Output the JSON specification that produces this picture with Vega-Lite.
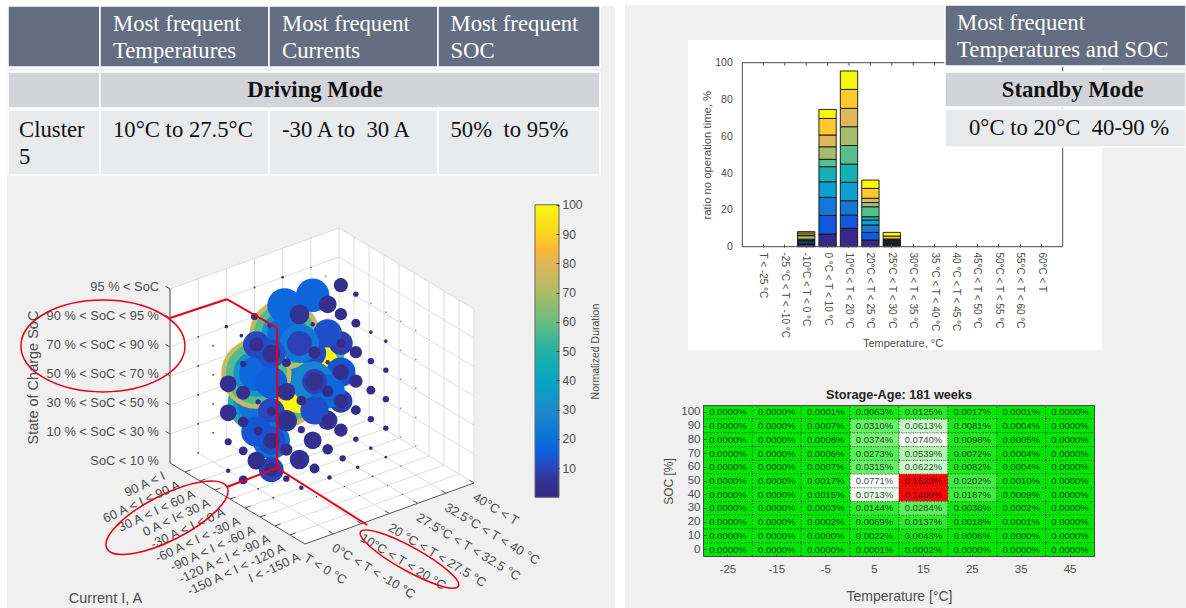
{"$schema":"https://vega.github.io/schema/vega-lite/v6.json","width":1186,"height":608,"padding":0,"autosize":{"type":"none"},"background":"white",
"config":{"view":{"stroke":null},"axis":{"grid":false,"domain":false,"labelFont":"Liberation Sans","titleFont":"Liberation Sans","titleFontWeight":"normal","labelColor":"#4d4d4d","titleColor":"#4d4d4d","tickColor":"#444444"}},
"resolve":{"scale":{"x":"independent","y":"independent","color":"independent","size":"independent"},"axis":{"x":"independent","y":"independent"}},
"datasets":{
"bars":[
{"bin":"-10°C < T < 0 °C","seg":1,"v":1.2},{"bin":"-10°C < T < 0 °C","seg":2,"v":0.6},{"bin":"-10°C < T < 0 °C","seg":3,"v":0.9},{"bin":"-10°C < T < 0 °C","seg":4,"v":0.6},{"bin":"-10°C < T < 0 °C","seg":5,"v":0.4},{"bin":"-10°C < T < 0 °C","seg":6,"v":0.4},{"bin":"-10°C < T < 0 °C","seg":7,"v":1.9},{"bin":"-10°C < T < 0 °C","seg":8,"v":0.3},{"bin":"-10°C < T < 0 °C","seg":9,"v":1.2},{"bin":"-10°C < T < 0 °C","seg":10,"v":0.7},
{"bin":"0 °C < T < 10 °C","seg":1,"v":6.9},{"bin":"0 °C < T < 10 °C","seg":2,"v":10.1},{"bin":"0 °C < T < 10 °C","seg":3,"v":9.8},{"bin":"0 °C < T < 10 °C","seg":4,"v":8.5},{"bin":"0 °C < T < 10 °C","seg":5,"v":8.2},{"bin":"0 °C < T < 10 °C","seg":6,"v":4},{"bin":"0 °C < T < 10 °C","seg":7,"v":6.8},{"bin":"0 °C < T < 10 °C","seg":8,"v":6.4},{"bin":"0 °C < T < 10 °C","seg":9,"v":9},{"bin":"0 °C < T < 10 °C","seg":10,"v":4.9},
{"bin":"10°C < T < 20 °C","seg":1,"v":10},{"bin":"10°C < T < 20 °C","seg":2,"v":7.2},{"bin":"10°C < T < 20 °C","seg":3,"v":7.8},{"bin":"10°C < T < 20 °C","seg":4,"v":10},{"bin":"10°C < T < 20 °C","seg":5,"v":9.9},{"bin":"10°C < T < 20 °C","seg":6,"v":10.1},{"bin":"10°C < T < 20 °C","seg":7,"v":10.2},{"bin":"10°C < T < 20 °C","seg":8,"v":10},{"bin":"10°C < T < 20 °C","seg":9,"v":10.3},{"bin":"10°C < T < 20 °C","seg":10,"v":10},
{"bin":"20°C < T < 25 °C","seg":1,"v":3.6},{"bin":"20°C < T < 25 °C","seg":2,"v":4.2},{"bin":"20°C < T < 25 °C","seg":3,"v":4},{"bin":"20°C < T < 25 °C","seg":4,"v":2.7},{"bin":"20°C < T < 25 °C","seg":5,"v":1.8},{"bin":"20°C < T < 25 °C","seg":6,"v":5.4},{"bin":"20°C < T < 25 °C","seg":7,"v":2.3},{"bin":"20°C < T < 25 °C","seg":8,"v":2.3},{"bin":"20°C < T < 25 °C","seg":9,"v":5.4},{"bin":"20°C < T < 25 °C","seg":10,"v":4.5},
{"bin":"25°C < T < 30 °C","seg":1,"v":1},{"bin":"25°C < T < 30 °C","seg":2,"v":0.6},{"bin":"25°C < T < 30 °C","seg":3,"v":0.5},{"bin":"25°C < T < 30 °C","seg":4,"v":0.5},{"bin":"25°C < T < 30 °C","seg":5,"v":0.4},{"bin":"25°C < T < 30 °C","seg":6,"v":0.4},{"bin":"25°C < T < 30 °C","seg":7,"v":0.4},{"bin":"25°C < T < 30 °C","seg":8,"v":0.4},{"bin":"25°C < T < 30 °C","seg":9,"v":1.6},{"bin":"25°C < T < 30 °C","seg":10,"v":2}],
"bins":[{"bin":"T < -25 °C"},{"bin":"-25 °C < T < -10 °C"},{"bin":"-10°C < T < 0 °C"},{"bin":"0 °C < T < 10 °C"},{"bin":"10°C < T < 20 °C"},{"bin":"20°C < T < 25 °C"},{"bin":"25°C < T < 30 °C"},{"bin":"30°C < T < 35 °C"},{"bin":"35 °C < T < 40 °C"},{"bin":"40 °C < T < 45 °C"},{"bin":"45°C < T < 50 °C"},{"bin":"50°C < T < 55 °C"},{"bin":"55°C < T < 60 °C"},{"bin":"60°C < T"}],
"heat":[
{"t":-25,"s":100,"p":0},{"t":-15,"s":100,"p":0},{"t":-5,"s":100,"p":0.0001},{"t":5,"s":100,"p":0.0063},{"t":15,"s":100,"p":0.0125},{"t":25,"s":100,"p":0.0017},{"t":35,"s":100,"p":0.0001},{"t":45,"s":100,"p":0},
{"t":-25,"s":90,"p":0},{"t":-15,"s":90,"p":0},{"t":-5,"s":90,"p":0.0007},{"t":5,"s":90,"p":0.031},{"t":15,"s":90,"p":0.0613},{"t":25,"s":90,"p":0.0081},{"t":35,"s":90,"p":0.0004},{"t":45,"s":90,"p":0},
{"t":-25,"s":80,"p":0},{"t":-15,"s":80,"p":0},{"t":-5,"s":80,"p":0.0008},{"t":5,"s":80,"p":0.0374},{"t":15,"s":80,"p":0.074},{"t":25,"s":80,"p":0.0098},{"t":35,"s":80,"p":0.0005},{"t":45,"s":80,"p":0},
{"t":-25,"s":70,"p":0},{"t":-15,"s":70,"p":0},{"t":-5,"s":70,"p":0.0006},{"t":5,"s":70,"p":0.0273},{"t":15,"s":70,"p":0.0539},{"t":25,"s":70,"p":0.0072},{"t":35,"s":70,"p":0.0004},{"t":45,"s":70,"p":0},
{"t":-25,"s":60,"p":0},{"t":-15,"s":60,"p":0},{"t":-5,"s":60,"p":0.0007},{"t":5,"s":60,"p":0.0315},{"t":15,"s":60,"p":0.0622},{"t":25,"s":60,"p":0.0082},{"t":35,"s":60,"p":0.0004},{"t":45,"s":60,"p":0},
{"t":-25,"s":50,"p":0},{"t":-15,"s":50,"p":0},{"t":-5,"s":50,"p":0.0017},{"t":5,"s":50,"p":0.0771},{"t":15,"s":50,"p":0.1523},{"t":25,"s":50,"p":0.0202},{"t":35,"s":50,"p":0.001},{"t":45,"s":50,"p":0},
{"t":-25,"s":40,"p":0},{"t":-15,"s":40,"p":0},{"t":-5,"s":40,"p":0.0015},{"t":5,"s":40,"p":0.0713},{"t":15,"s":40,"p":0.1409},{"t":25,"s":40,"p":0.0187},{"t":35,"s":40,"p":0.0009},{"t":45,"s":40,"p":0},
{"t":-25,"s":30,"p":0},{"t":-15,"s":30,"p":0},{"t":-5,"s":30,"p":0.0003},{"t":5,"s":30,"p":0.0144},{"t":15,"s":30,"p":0.0284},{"t":25,"s":30,"p":0.0038},{"t":35,"s":30,"p":0.0002},{"t":45,"s":30,"p":0},
{"t":-25,"s":20,"p":0},{"t":-15,"s":20,"p":0},{"t":-5,"s":20,"p":0.0002},{"t":5,"s":20,"p":0.0069},{"t":15,"s":20,"p":0.0137},{"t":25,"s":20,"p":0.0018},{"t":35,"s":20,"p":0.0001},{"t":45,"s":20,"p":0},
{"t":-25,"s":10,"p":0},{"t":-15,"s":10,"p":0},{"t":-5,"s":10,"p":0},{"t":5,"s":10,"p":0.0022},{"t":15,"s":10,"p":0.0043},{"t":25,"s":10,"p":0.0006},{"t":35,"s":10,"p":0},{"t":45,"s":10,"p":0},
{"t":-25,"s":0,"p":0},{"t":-15,"s":0,"p":0},{"t":-5,"s":0,"p":0},{"t":5,"s":0,"p":0.0001},{"t":15,"s":0,"p":0.0002},{"t":25,"s":0,"p":0},{"t":35,"s":0,"p":0},{"t":45,"s":0,"p":0}],
"cube":[
{"k":"w","w":"left","t":0,"i":0,"s":6,"t2":0,"i2":0,"s2":0},{"k":"w","w":"left","t":6,"i":0,"s":6,"t2":6,"i2":0,"s2":0},
{"k":"w","w":"right","t":6,"i":0,"s":6,"t2":6,"i2":0,"s2":0},{"k":"w","w":"right","t":6,"i":9,"s":6,"t2":6,"i2":9,"s2":0},
{"k":"w","w":"floor","t":0,"i":0,"s":0,"t2":0,"i2":0,"s2":0},{"k":"w","w":"floor","t":4.79,"i":0,"s":0,"t2":0,"i2":9,"s2":0},{"k":"w","w":"floor","t":6,"i":0,"s":0,"t2":1.21,"i2":9,"s2":0},{"k":"w","w":"floor","t":6,"i":9,"s":0,"t2":6,"i2":9,"s2":0},
{"k":"g","t":0,"i":0,"s":0,"t2":0,"i2":0,"s2":6},{"k":"g","t":1,"i":0,"s":0,"t2":1,"i2":0,"s2":6},{"k":"g","t":2,"i":0,"s":0,"t2":2,"i2":0,"s2":6},{"k":"g","t":3,"i":0,"s":0,"t2":3,"i2":0,"s2":6},{"k":"g","t":4,"i":0,"s":0,"t2":4,"i2":0,"s2":6},{"k":"g","t":5,"i":0,"s":0,"t2":5,"i2":0,"s2":6},{"k":"g","t":6,"i":0,"s":0,"t2":6,"i2":0,"s2":6},
{"k":"g","t":0,"i":0,"s":1,"t2":6,"i2":0,"s2":1},{"k":"g","t":0,"i":0,"s":2,"t2":6,"i2":0,"s2":2},{"k":"g","t":0,"i":0,"s":3,"t2":6,"i2":0,"s2":3},{"k":"g","t":0,"i":0,"s":4,"t2":6,"i2":0,"s2":4},{"k":"g","t":0,"i":0,"s":5,"t2":6,"i2":0,"s2":5},{"k":"g","t":0,"i":0,"s":6,"t2":6,"i2":0,"s2":6},
{"k":"g","t":6,"i":1,"s":0,"t2":6,"i2":1,"s2":6},{"k":"g","t":6,"i":2,"s":0,"t2":6,"i2":2,"s2":6},{"k":"g","t":6,"i":3,"s":0,"t2":6,"i2":3,"s2":6},{"k":"g","t":6,"i":4,"s":0,"t2":6,"i2":4,"s2":6},{"k":"g","t":6,"i":5,"s":0,"t2":6,"i2":5,"s2":6},{"k":"g","t":6,"i":6,"s":0,"t2":6,"i2":6,"s2":6},{"k":"g","t":6,"i":7,"s":0,"t2":6,"i2":7,"s2":6},{"k":"g","t":6,"i":8,"s":0,"t2":6,"i2":8,"s2":6},{"k":"g","t":6,"i":9,"s":0,"t2":6,"i2":9,"s2":6},
{"k":"g","t":6,"i":0,"s":0,"t2":6,"i2":9,"s2":0},{"k":"g","t":6,"i":0,"s":1,"t2":6,"i2":9,"s2":1},{"k":"g","t":6,"i":0,"s":2,"t2":6,"i2":9,"s2":2},{"k":"g","t":6,"i":0,"s":3,"t2":6,"i2":9,"s2":3},{"k":"g","t":6,"i":0,"s":4,"t2":6,"i2":9,"s2":4},{"k":"g","t":6,"i":0,"s":5,"t2":6,"i2":9,"s2":5},{"k":"g","t":6,"i":0,"s":6,"t2":6,"i2":9,"s2":6},
{"k":"g","t":1,"i":0,"s":0,"t2":1,"i2":9,"s2":0},{"k":"g","t":2,"i":0,"s":0,"t2":2,"i2":9,"s2":0},{"k":"g","t":3,"i":0,"s":0,"t2":3,"i2":9,"s2":0},{"k":"g","t":4,"i":0,"s":0,"t2":4,"i2":9,"s2":0},{"k":"g","t":5,"i":0,"s":0,"t2":5,"i2":9,"s2":0},
{"k":"g","t":0,"i":1,"s":0,"t2":6,"i2":1,"s2":0},{"k":"g","t":0,"i":2,"s":0,"t2":6,"i2":2,"s2":0},{"k":"g","t":0,"i":3,"s":0,"t2":6,"i2":3,"s2":0},{"k":"g","t":0,"i":4,"s":0,"t2":6,"i2":4,"s2":0},{"k":"g","t":0,"i":5,"s":0,"t2":6,"i2":5,"s2":0},{"k":"g","t":0,"i":6,"s":0,"t2":6,"i2":6,"s2":0},{"k":"g","t":0,"i":7,"s":0,"t2":6,"i2":7,"s2":0},{"k":"g","t":0,"i":8,"s":0,"t2":6,"i2":8,"s2":0},
{"k":"a","t":0,"i":0,"s":0,"t2":0,"i2":0,"s2":6},{"k":"a","t":0,"i":0,"s":0,"t2":0,"i2":9,"s2":0},{"k":"a","t":0,"i":9,"s":0,"t2":6,"i2":9,"s2":0},
{"k":"a","t":0,"i":0,"s":1,"t2":0,"i2":-0.3,"s2":1},{"k":"a","t":0,"i":0,"s":2,"t2":0,"i2":-0.3,"s2":2},{"k":"a","t":0,"i":0,"s":3,"t2":0,"i2":-0.3,"s2":3},{"k":"a","t":0,"i":0,"s":4,"t2":0,"i2":-0.3,"s2":4},{"k":"a","t":0,"i":0,"s":5,"t2":0,"i2":-0.3,"s2":5},{"k":"a","t":0,"i":0,"s":6,"t2":0,"i2":-0.3,"s2":6},
{"k":"a","t":0,"i":1,"s":0,"t2":0.2,"i2":1,"s2":0},{"k":"a","t":0,"i":2,"s":0,"t2":0.2,"i2":2,"s2":0},{"k":"a","t":0,"i":3,"s":0,"t2":0.2,"i2":3,"s2":0},{"k":"a","t":0,"i":4,"s":0,"t2":0.2,"i2":4,"s2":0},{"k":"a","t":0,"i":5,"s":0,"t2":0.2,"i2":5,"s2":0},{"k":"a","t":0,"i":6,"s":0,"t2":0.2,"i2":6,"s2":0},{"k":"a","t":0,"i":7,"s":0,"t2":0.2,"i2":7,"s2":0},{"k":"a","t":0,"i":8,"s":0,"t2":0.2,"i2":8,"s2":0},
{"k":"a","t":1,"i":9,"s":0,"t2":1,"i2":8.7,"s2":0},{"k":"a","t":2,"i":9,"s":0,"t2":2,"i2":8.7,"s2":0},{"k":"a","t":3,"i":9,"s":0,"t2":3,"i2":8.7,"s2":0},{"k":"a","t":4,"i":9,"s":0,"t2":4,"i2":8.7,"s2":0},{"k":"a","t":5,"i":9,"s":0,"t2":5,"i2":8.7,"s2":0},{"k":"a","t":6,"i":9,"s":0,"t2":6,"i2":8.7,"s2":0},
{"k":"b","t":1,"i":0,"s":0,"d":0.05},{"k":"b","t":1,"i":0,"s":1,"d":0.05},{"k":"b","t":1,"i":0,"s":2,"d":0.05},{"k":"b","t":1,"i":0,"s":3,"d":0.05},{"k":"b","t":1,"i":0,"s":4,"d":0.05},{"k":"b","t":1,"i":1,"s":1,"d":0.05},{"k":"b","t":1,"i":1,"s":2,"d":0.05},{"k":"b","t":1,"i":1,"s":3,"d":0.05},{"k":"b","t":1,"i":1,"s":4,"d":0.05},{"k":"b","t":1,"i":2,"s":4,"d":0.05},{"k":"b","t":1,"i":4,"s":0,"d":0.05},{"k":"b","t":1,"i":5,"s":0,"d":0.05},
{"k":"b","t":5,"i":0,"s":5,"d":0.03},{"k":"b","t":5,"i":1,"s":5,"d":0.03},{"k":"b","t":5,"i":4,"s":5,"d":0.03},{"k":"b","t":5,"i":5,"s":5,"d":0.03},{"k":"b","t":5,"i":6,"s":5,"d":0.02},{"k":"b","t":5,"i":6,"s":4,"d":0.02},{"k":"b","t":5,"i":6,"s":3,"d":0.02},{"k":"b","t":5,"i":6,"s":2,"d":0.02},{"k":"b","t":5,"i":6,"s":1,"d":0.02},{"k":"b","t":5,"i":7,"s":5,"d":0.02},{"k":"b","t":5,"i":7,"s":4,"d":0.02},{"k":"b","t":5,"i":7,"s":3,"d":0.02},{"k":"b","t":5,"i":7,"s":2,"d":0.02},{"k":"b","t":5,"i":7,"s":1,"d":0.02},{"k":"b","t":4,"i":7,"s":0,"d":0.02},{"k":"b","t":4,"i":8,"s":0,"d":0.02},{"k":"b","t":5,"i":6,"s":0,"d":0.02},{"k":"b","t":3,"i":6,"s":0,"d":0.03},{"k":"b","t":3,"i":7,"s":0,"d":0.02},{"k":"b","t":2,"i":6,"s":0,"d":0.03},
{"k":"b","t":3,"i":2,"s":2,"d":75},{"k":"b","t":3,"i":2,"s":2,"d":57},{"k":"b","t":3,"i":2,"s":2,"d":32},{"k":"b","t":3,"i":2,"s":2,"d":18},
{"k":"b","t":2,"i":2,"s":2,"d":50},{"k":"b","t":2,"i":2,"s":2,"d":32},{"k":"b","t":2,"i":2,"s":2,"d":22},
{"k":"b","t":3,"i":4,"s":4,"d":55},{"k":"b","t":3,"i":3,"s":3,"d":100},{"k":"b","t":3,"i":3,"s":3,"d":26},
{"k":"b","t":3,"i":2,"s":4,"d":75},{"k":"b","t":3,"i":2,"s":4,"d":57},{"k":"b","t":3,"i":2,"s":4,"d":32},{"k":"b","t":3,"i":2,"s":4,"d":18},
{"k":"b","t":2,"i":2,"s":3,"d":75},{"k":"b","t":2,"i":2,"s":3,"d":57},{"k":"b","t":2,"i":2,"s":3,"d":32},{"k":"b","t":2,"i":2,"s":3,"d":18},
{"k":"b","t":4,"i":2,"s":3,"d":11},{"k":"b","t":5,"i":2,"s":3,"d":8.5},{"k":"b","t":5,"i":2,"s":2,"d":13},{"k":"b","t":5,"i":2,"s":1,"d":8},{"k":"b","t":4,"i":3,"s":4,"d":12.2},{"k":"b","t":4,"i":2,"s":2,"d":27},{"k":"b","t":4,"i":3,"s":2,"d":18},{"k":"b","t":4,"i":3,"s":1,"d":5.8},{"k":"b","t":4,"i":2,"s":1,"d":8},{"k":"b","t":4,"i":2,"s":0,"d":4.8},{"k":"b","t":3,"i":4,"s":3,"d":9.3},{"k":"b","t":3,"i":4,"s":2,"d":12},{"k":"b","t":3,"i":3,"s":4,"d":23},{"k":"b","t":3,"i":3,"s":4,"d":9.3},{"k":"b","t":3,"i":2,"s":5,"d":18},{"k":"b","t":4,"i":2,"s":5,"d":17},{"k":"b","t":2,"i":3,"s":3,"d":15.4},{"k":"b","t":2,"i":3,"s":2,"d":10.7},{"k":"b","t":2,"i":3,"s":1,"d":21},{"k":"b","t":2,"i":3,"s":1,"d":12},{"k":"b","t":2,"i":3,"s":0,"d":9.3},{"k":"b","t":2,"i":2,"s":1,"d":13.8},{"k":"b","t":2,"i":2,"s":0,"d":4.8},{"k":"b","t":2,"i":2,"s":4,"d":10.7},{"k":"b","t":2,"i":3,"s":4,"d":12.2},{"k":"b","t":2,"i":4,"s":2,"d":6.9},{"k":"b","t":3,"i":3,"s":0,"d":5.8},
{"k":"b","t":1,"i":2,"s":0,"d":0.3},{"k":"b","t":1,"i":2,"s":1,"d":0.76},{"k":"b","t":1,"i":2,"s":2,"d":4.3},{"k":"b","t":1,"i":2,"s":3,"d":4.3},{"k":"b","t":1,"i":3,"s":4,"d":0.6},{"k":"b","t":1,"i":3,"s":3,"d":3},{"k":"b","t":1,"i":3,"s":2,"d":1.7},{"k":"b","t":1,"i":3,"s":1,"d":1.2},{"k":"b","t":1,"i":3,"s":0,"d":1.2},{"k":"b","t":1,"i":4,"s":3,"d":0.43},{"k":"b","t":1,"i":4,"s":2,"d":1.2},
{"k":"b","t":2,"i":0,"s":4,"d":0.2},{"k":"b","t":2,"i":1,"s":4,"d":0.2},{"k":"b","t":3,"i":0,"s":4,"d":0.76},{"k":"b","t":3,"i":0,"s":5,"d":0.05},{"k":"b","t":4,"i":0,"s":5,"d":0.1},{"k":"b","t":3,"i":1,"s":4,"d":0.3},
{"k":"b","t":5,"i":2,"s":5,"d":3},{"k":"b","t":5,"i":2,"s":4,"d":2.3},{"k":"b","t":5,"i":2,"s":3,"d":1.2},{"k":"b","t":5,"i":2,"s":2,"d":3.9},{"k":"b","t":5,"i":2,"s":1,"d":3},{"k":"b","t":5,"i":2,"s":0,"d":2.7},
{"k":"b","t":5,"i":3,"s":5,"d":0.43},{"k":"b","t":5,"i":3,"s":4,"d":1.2},{"k":"b","t":5,"i":3,"s":3,"d":2.3},{"k":"b","t":5,"i":3,"s":2,"d":2.7},{"k":"b","t":5,"i":3,"s":1,"d":1.45},{"k":"b","t":5,"i":3,"s":0,"d":0.43},
{"k":"b","t":5,"i":4,"s":4,"d":0.2},{"k":"b","t":5,"i":4,"s":3,"d":0.6},{"k":"b","t":5,"i":4,"s":2,"d":1.2},{"k":"b","t":5,"i":4,"s":1,"d":0.6},{"k":"b","t":5,"i":4,"s":0,"d":0.2},
{"k":"b","t":5,"i":5,"s":4,"d":0.2},{"k":"b","t":5,"i":5,"s":3,"d":0.43},{"k":"b","t":5,"i":5,"s":2,"d":0.6},{"k":"b","t":5,"i":5,"s":1,"d":0.43},{"k":"b","t":5,"i":5,"s":0,"d":0.1},
{"k":"b","t":4,"i":3,"s":0,"d":1.7},{"k":"b","t":4,"i":4,"s":0,"d":0.6},{"k":"b","t":4,"i":5,"s":0,"d":0.2},{"k":"b","t":4,"i":6,"s":0,"d":0.05},{"k":"b","t":3,"i":5,"s":0,"d":0.3},{"k":"b","t":2,"i":5,"s":0,"d":0.3},
{"k":"b","t":3,"i":3,"s":5,"d":5.8},{"k":"b","t":4,"i":3,"s":5,"d":4.8},{"k":"b","t":2,"i":2,"s":4,"d":3},{"k":"b","t":2,"i":3,"s":4,"d":4.8},{"k":"b","t":2,"i":4,"s":4,"d":1.2},{"k":"b","t":3,"i":4,"s":4,"d":2.3},{"k":"b","t":4,"i":2,"s":4,"d":0.3},{"k":"b","t":4,"i":3,"s":3,"d":0.3},{"k":"b","t":3,"i":4,"s":3,"d":5},{"k":"b","t":4,"i":3,"s":2,"d":2},{"k":"b","t":4,"i":3,"s":1,"d":2.3},{"k":"b","t":2,"i":5,"s":3,"d":1.45},{"k":"b","t":2,"i":5,"s":2,"d":0.76},{"k":"b","t":2,"i":4,"s":3,"d":4.8},{"k":"b","t":2,"i":4,"s":2,"d":3.9},{"k":"b","t":2,"i":4,"s":1,"d":2.3},{"k":"b","t":2,"i":4,"s":0,"d":0.6},{"k":"b","t":2,"i":3,"s":2,"d":1.2},{"k":"b","t":2,"i":3,"s":1,"d":3.9},{"k":"b","t":2,"i":3,"s":0,"d":3},{"k":"b","t":2,"i":2,"s":0,"d":3},{"k":"b","t":3,"i":3,"s":0,"d":1.45},{"k":"b","t":3,"i":4,"s":0,"d":1.45},
{"k":"soc","t":0,"i":0,"s":0,"label":"SoC < 10 %"},{"k":"soc","t":0,"i":0,"s":1,"label":"10 % < SoC < 30 %"},{"k":"soc","t":0,"i":0,"s":2,"label":"30 % < SoC < 50 %"},{"k":"soc","t":0,"i":0,"s":3,"label":"50 % < SoC < 70 %"},{"k":"soc","t":0,"i":0,"s":4,"label":"70 % < SoC < 90 %"},{"k":"soc","t":0,"i":0,"s":5,"label":"90 % < SoC < 95 %"},{"k":"soc","t":0,"i":0,"s":6,"label":"95 % < SoC"},
{"k":"cur","t":-0.2,"i":0,"s":-0.35,"label":"90 A < I"},{"k":"cur","t":-0.2,"i":1,"s":-0.35,"label":"60 A < I < 90 A"},{"k":"cur","t":-0.2,"i":2,"s":-0.35,"label":"30 A < I < 60 A"},{"k":"cur","t":-0.2,"i":3,"s":-0.35,"label":"0 A < I< 30 A"},{"k":"cur","t":-0.2,"i":4,"s":-0.35,"label":"-30 A < I < 0 A"},{"k":"cur","t":-0.2,"i":5,"s":-0.35,"label":"-60 A < I < -30 A"},{"k":"cur","t":-0.2,"i":6,"s":-0.35,"label":"-90 A < I < -60 A"},{"k":"cur","t":-0.2,"i":7,"s":-0.35,"label":"-120 A < I < -90 A"},{"k":"cur","t":-0.2,"i":8,"s":-0.35,"label":"-150 A < I < -120 A"},{"k":"cur","t":-0.2,"i":9,"s":-0.35,"label":"I < -150 A"},
{"k":"tmp","t":0,"i":9,"s":-0.45,"label":"T < 0 °C"},{"k":"tmp","t":1,"i":9,"s":-0.45,"label":"0°C < T < -10 °C"},{"k":"tmp","t":2,"i":9,"s":-0.45,"label":"10°C < T < 20 °C"},{"k":"tmp","t":3,"i":9,"s":-0.45,"label":"20 °C < T < 27.5 °C"},{"k":"tmp","t":4,"i":9,"s":-0.45,"label":"27.5°C < T < 32.5 °C"},{"k":"tmp","t":5,"i":9,"s":-0.45,"label":"32.5°C < T < 40 °C"},{"k":"tmp","t":6,"i":9,"s":-0.45,"label":"40°C < T"},
{"k":"r","t":0,"i":0,"s":5,"t2":2.02,"i2":0,"s2":4.94},{"k":"r","t":2.02,"i":0,"s":4.94,"t2":2.19,"i2":3.03,"s2":4.83},{"k":"r","t":2.19,"i":3.03,"s":4.83,"t2":2.19,"i2":3.03,"s2":0},{"k":"r","t":2.19,"i":3.03,"s":0,"t2":0.377,"i2":3.09,"s2":0},{"k":"r","t":2.19,"i":3.03,"s":0,"t2":2.08,"i2":9.24,"s2":0},
{"k":"e1","t":-2.38,"i":0,"s":4.87},{"k":"e2","t":0,"i":-0.2,"s":-1.95},{"k":"e3","t":3.71,"i":9,"s":-1.82}],
"cells":[
{"c":0,"c2":1,"r":0,"r2":1,"f":"h"},{"c":1,"c2":2,"r":0,"r2":1,"f":"h"},{"c":2,"c2":3,"r":0,"r2":1,"f":"h"},{"c":3,"c2":4,"r":0,"r2":1,"f":"h"},
{"c":0,"c2":1,"r":2,"r2":3,"f":"m"},{"c":1,"c2":4,"r":2,"r2":3,"f":"m"},
{"c":0,"c2":1,"r":4,"r2":5,"f":"l"},{"c":1,"c2":2,"r":4,"r2":5,"f":"l"},{"c":2,"c2":3,"r":4,"r2":5,"f":"l"},{"c":3,"c2":4,"r":4,"r2":5,"f":"l"},
{"c":5,"c2":6,"r":6,"r2":7,"f":"h"},{"c":5,"c2":6,"r":8,"r2":9,"f":"m"},{"c":5,"c2":6,"r":10,"r2":11,"f":"l"}],
"cellText":[
{"c":1.077,"r":0.295,"k":"head","text":"Most frequent\nTemperatures"},{"c":2.077,"r":0.295,"k":"head","text":"Most frequent\nCurrents"},{"c":3.077,"r":0.295,"k":"head","text":"Most frequent\nSOC"},
{"c":2.272,"r":2.5,"k":"bold","text":"Driving Mode"},
{"c":0.12,"r":4.31,"k":"body","text":"Cluster\n5"},{"c":1.077,"r":4.31,"k":"body","text":"10°C to 27.5°C"},{"c":2.077,"r":4.31,"k":"body","text":"-30 A to\u00a0 30 A"},{"c":3.077,"r":4.31,"k":"body","text":"50%\u00a0 to 95%"},
{"c":5.05,"r":6.295,"k":"head","text":"Most frequent\nTemperatures and SOC"},
{"c":5.53,"r":8.5,"k":"bold","text":"Standby Mode"},
{"c":5.515,"r":10.5,"k":"center","text":"0°C to 20°C\u00a0 40-90 %"}]
},
"layer":[
{"data":{"values":[{"a":0,"b":1,"c":0,"d":1},{"a":2,"b":3,"c":2,"d":3},{"a":4,"b":5,"c":4,"d":5,"white":1}]},
 "mark":{"type":"rect"},
 "encoding":{
  "x":{"field":"a","type":"quantitative","scale":{"domain":[0,1,2,3,4,5],"range":[7,615,625,1186,688,1102]},"axis":null},
  "x2":{"field":"b"},
  "y":{"field":"c","type":"quantitative","scale":{"domain":[0,1,2,3,4,5],"range":[6,608,5,608,40,350]},"axis":null},
  "y2":{"field":"d"},
  "color":{"condition":{"test":"datum.white===1","value":"#ffffff"},"value":"#f0f0f0"}}},
{"data":{"name":"cube"},
 "transform":[
  {"calculate":"170+28.17*datum.t+15*datum.i","as":"px"},
  {"calculate":"463-10.17*datum.t+9*datum.i-29*datum.s","as":"py"},
  {"calculate":"170+28.17*datum.t2+15*datum.i2","as":"px2"},
  {"calculate":"463-10.17*datum.t2+9*datum.i2-29*datum.s2","as":"py2"}],
 "encoding":{
  "x":{"field":"px","type":"quantitative","scale":{"domain":[0,1186],"range":[0,1186]},"axis":{"zindex":1,"orient":"bottom","title":"Current I, A","titleX":105,"titleY":-10,"titleFontSize":14.5,"titleBaseline":"middle","labels":false,"ticks":false}},
  "y":{"field":"py","type":"quantitative","scale":{"domain":[0,608],"range":[0,608]},"axis":{"zindex":1,"orient":"left","title":"State of Charge SoC","titleX":33,"titleY":377,"titleFontSize":14.5,"titleBaseline":"middle","labels":false,"ticks":false}}},
 "layer":[
  {"transform":[{"filter":"datum.k==='w'"}],"mark":{"type":"area","color":"#ffffff","opacity":1},"encoding":{"y2":{"field":"py2"},"detail":{"field":"w"}}},
  {"transform":[{"filter":"datum.k==='g'"}],"mark":{"type":"rule","color":"#dddddd","strokeWidth":1},"encoding":{"x2":{"field":"px2"},"y2":{"field":"py2"}}},
  {"transform":[{"filter":"datum.k==='a'"}],"mark":{"type":"rule","color":"#555555","strokeWidth":1},"encoding":{"x2":{"field":"px2"},"y2":{"field":"py2"}}},
  {"transform":[{"filter":"datum.k==='b'"}],"mark":{"type":"circle","opacity":1},"encoding":{
    "size":{"field":"d","type":"quantitative","legend":null,"scale":{"type":"linear","domain":[0,100],"range":[0,6600]}},
    "color":{"field":"d","type":"quantitative","legend":null,"scale":{"domain":[0,5,10,15,20,30,40,50,60,70,80,85,90,100],"range":["#352a87","#33308f","#2c44bd","#0f5cdd","#0c70da","#1a8ccc","#05a6c5","#21b3a5","#66be80","#aebc65","#e0b658","#fdb733","#fbd420","#f8fa0d"],"interpolate":"rgb"}}}},
  {"transform":[{"filter":"datum.k==='soc'"}],"mark":{"type":"text","font":"Liberation Sans","fontSize":12.8,"fill":"#4d4d4d","align":"right","baseline":"middle","dx":-11,"dy":-2},"encoding":{"text":{"field":"label","type":"nominal"}}},
  {"transform":[{"filter":"datum.k==='cur'"}],"mark":{"type":"text","font":"Liberation Sans","fontSize":12.8,"fill":"#4d4d4d","align":"right","baseline":"middle","angle":-25},"encoding":{"text":{"field":"label","type":"nominal"}}},
  {"transform":[{"filter":"datum.k==='tmp'"}],"mark":{"type":"text","font":"Liberation Sans","fontSize":12.8,"fill":"#4d4d4d","align":"left","baseline":"middle","angle":31},"encoding":{"text":{"field":"label","type":"nominal"}}},
  {"transform":[{"filter":"datum.k==='r'"}],"mark":{"type":"rule","color":"#e60012","strokeWidth":2},"encoding":{"x2":{"field":"px2"},"y2":{"field":"py2"}}},
  {"transform":[{"filter":"datum.k==='e1'"}],"mark":{"type":"point","shape":"M-1,0A1,0.56 0 1 0 1,0A1,0.56 0 1 0 -1,0","size":26896,"filled":false,"color":"#e60012","strokeWidth":1.5,"opacity":1}},
  {"transform":[{"filter":"datum.k==='e2'"}],"mark":{"type":"point","shape":"M-1,0A1,0.336 0 1 0 1,0A1,0.336 0 1 0 -1,0","size":18225,"angle":-27,"filled":false,"color":"#e60012","strokeWidth":1.5,"opacity":1}},
  {"transform":[{"filter":"datum.k==='e3'"}],"mark":{"type":"point","shape":"M-1,0A1,0.214 0 1 0 1,0A1,0.214 0 1 0 -1,0","size":12544,"angle":29,"filled":false,"color":"#e60012","strokeWidth":1.5,"opacity":1}}
 ]},
{"data":{"values":[{"a":0,"b":1,"lo":0,"hi":100}]},
 "mark":{"type":"rect","stroke":"#666666","strokeWidth":1,"fill":{"x1":0,"y1":1,"x2":0,"y2":0,"gradient":"linear","stops":[{"offset":0,"color":"#352a87"},{"offset":0.05,"color":"#33308f"},{"offset":0.1,"color":"#2c44bd"},{"offset":0.15,"color":"#0f5cdd"},{"offset":0.2,"color":"#0c70da"},{"offset":0.3,"color":"#1a8ccc"},{"offset":0.4,"color":"#05a6c5"},{"offset":0.5,"color":"#21b3a5"},{"offset":0.6,"color":"#66be80"},{"offset":0.7,"color":"#aebc65"},{"offset":0.8,"color":"#e0b658"},{"offset":0.85,"color":"#fdb733"},{"offset":0.9,"color":"#fbd420"},{"offset":1,"color":"#f8fa0d"}]}},
 "encoding":{
  "x":{"field":"a","type":"quantitative","scale":{"domain":[0,1],"range":[535,559]},"axis":null},
  "x2":{"field":"b"},
  "y":{"field":"lo","type":"quantitative","scale":{"domain":[0,100],"range":[497.3,204.8]},"axis":{"zindex":1,"orient":"right","offset":-627,"values":[10,20,30,40,50,60,70,80,90,100],"tickSize":-3,"labelPadding":6,"labelFontSize":12,"labelFont":"Liberation Sans","title":"Normalized Duration","titleFontSize":10.5,"titleAngle":270,"titleX":36,"titleBaseline":"middle"}},
  "y2":{"field":"hi"}}},
{"layer":[
 {"data":{"name":"bars"},"mark":{"type":"bar","stroke":"#111111","strokeWidth":0.9},
  "encoding":{
   "x":{"field":"bin","type":"nominal","scale":{"type":"band","domain":["T < -25 °C","-25 °C < T < -10 °C","-10°C < T < 0 °C","0 °C < T < 10 °C","10°C < T < 20 °C","20°C < T < 25 °C","25°C < T < 30 °C","30°C < T < 35 °C","35 °C < T < 40 °C","40 °C < T < 45 °C","45°C < T < 50 °C","50°C < T < 55 °C","55°C < T < 60 °C","60°C < T"],"range":[742.3,1062.7],"paddingInner":0.19,"paddingOuter":0.58},
     "axis":{"zindex":1,"orient":"bottom","offset":-361,"labelAngle":90,"labelAlign":"left","labelBaseline":"middle","labelFontSize":10,"labelLimit":200,"labelPadding":8,"tickSize":-3,"title":"Temperature, °C","titleFontSize":11,"titleY":96,"titleBaseline":"middle"}},
   "y":{"field":"v","type":"quantitative","stack":"zero","scale":{"domain":[0,100],"range":[246.7,62.7]},"axis":{"zindex":1,"orient":"left","offset":-742.3,"values":[0,20,40,60,80,100],"labelFontSize":10.5,"tickSize":0,"labelPadding":10,"title":"ratio no operation time, %","titleFontSize":11.3,"titleX":-35,"titleBaseline":"middle"}},
   "color":{"field":"seg","type":"ordinal","legend":null,"scale":{"domain":[1,2,3,4,5,6,7,8,9,10],"range":["#372a87","#1258dc","#1479d6","#0d9fd0","#14b0b4","#58bf8c","#a4bd6e","#e0b85a","#fdca2e","#f6f90e"]}},
   "order":{"field":"seg","type":"quantitative"}}},
 {"data":{"name":"bins"},"mark":{"type":"rule","color":"#444444"},"encoding":{"x":{"field":"bin","type":"nominal"},"y":{"datum":100},"y2":{"datum":98.4}}}
]},
{"data":{"name":"heat"},
 "encoding":{
  "x":{"field":"t","type":"ordinal","scale":{"type":"band","domain":[-25,-15,-5,5,15,25,35,45],"range":[703.5,1094.5]},"axis":{"zindex":1,"orient":"bottom","offset":-51.5,"labelAngle":0,"labelFontSize":11.5,"labelPadding":9,"tickSize":-2.5,"title":"Temperature [°C]","titleFontSize":14,"titleY":40,"titleBaseline":"middle"}},
  "y":{"field":"s","type":"ordinal","scale":{"type":"band","domain":[100,90,80,70,60,50,40,30,20,10,0],"range":[405.5,556.5]},"axis":{"zindex":1,"orient":"left","offset":-703.5,"labelFontSize":11.5,"labelPadding":6,"tickSize":-2.5,"title":"SOC [%]","titleFontSize":12,"titleX":-35,"titleBaseline":"middle"}}},
 "layer":[
  {"mark":{"type":"rect","stroke":"#0a2a0a","strokeWidth":0.8,"strokeDash":[1,2.5]},"encoding":{"color":{"field":"p","type":"quantitative","legend":null,"scale":{"domain":[0,0.078,0.085,0.1523],"range":["#00e600","#ffffff","#ff2020","#ff0000"],"interpolate":"rgb"}}}},
  {"transform":[{"calculate":"format(datum.p,'.4f')+'%'","as":"label"}],"mark":{"type":"text","font":"Liberation Sans","fontSize":9.5,"fill":"#000000","opacity":0.72,"baseline":"middle"},"encoding":{"text":{"field":"label","type":"nominal"}}},
  {"data":{"values":[{"t":5,"s":100,"label":"Storage-Age: 181 weeks"}]},"mark":{"type":"text","font":"Liberation Sans","fontSize":12.7,"fontWeight":"bold","fill":"#222222","baseline":"middle","dy":-17.5},"encoding":{"x":{"field":"t","type":"ordinal","bandPosition":1},"text":{"field":"label","type":"nominal"}}}
 ]},
{"data":{"values":[{"a":0,"b":1,"c":0,"d":1},{"a":2,"b":3,"c":2,"d":3}]},
 "mark":{"type":"rect","fill":null,"stroke":"#4a4a4a","strokeWidth":1,"fillOpacity":0},
 "encoding":{
  "x":{"field":"a","type":"quantitative","scale":{"domain":[0,1,2,3],"range":[742.3,1062.7,703.5,1094.5]},"axis":null},
  "x2":{"field":"b"},
  "y":{"field":"c","type":"quantitative","scale":{"domain":[0,1,2,3],"range":[246.7,62.7,556.5,405.5]},"axis":null},
  "y2":{"field":"d"}}},
{"encoding":{
  "x":{"field":"c","type":"quantitative","scale":{"domain":[0,1,2,3,4,5,6],"range":[8,100,269,438,600,945,1186]},"axis":null},
  "y":{"field":"r","type":"quantitative","scale":{"domain":[0,1,2,3,4,5,6,7,8,9,10,11],"range":[6,67,72,108,110,175,5,66,72,107,109,147]},"axis":null}},
 "layer":[
  {"data":{"name":"cells"},"mark":{"type":"rect","stroke":"#ffffff","strokeWidth":1.5},"encoding":{"x2":{"field":"c2"},"y2":{"field":"r2"},"color":{"field":"f","type":"nominal","legend":null,"scale":{"domain":["h","m","l"],"range":["#636e82","#d2d4d8","#e9eaec"]}}}},
  {"data":{"name":"cellText"},"transform":[{"filter":"datum.k==='head'"}],"mark":{"type":"text","font":"Liberation Serif","fontSize":22.7,"fill":"#ffffff","align":"left","baseline":"middle","lineBreak":"\n","lineHeight":27},"encoding":{"text":{"field":"text","type":"nominal"}}},
  {"data":{"name":"cellText"},"transform":[{"filter":"datum.k==='body'"}],"mark":{"type":"text","font":"Liberation Serif","fontSize":22.7,"fill":"#111111","align":"left","baseline":"middle","lineBreak":"\n","lineHeight":27},"encoding":{"text":{"field":"text","type":"nominal"}}},
  {"data":{"name":"cellText"},"transform":[{"filter":"datum.k==='bold'"}],"mark":{"type":"text","font":"Liberation Serif","fontSize":22.7,"fontWeight":"bold","fill":"#111111","align":"center","baseline":"middle"},"encoding":{"text":{"field":"text","type":"nominal"}}},
  {"data":{"name":"cellText"},"transform":[{"filter":"datum.k==='center'"}],"mark":{"type":"text","font":"Liberation Serif","fontSize":22.7,"fill":"#111111","align":"center","baseline":"middle"},"encoding":{"text":{"field":"text","type":"nominal"}}}
 ]}
]}
